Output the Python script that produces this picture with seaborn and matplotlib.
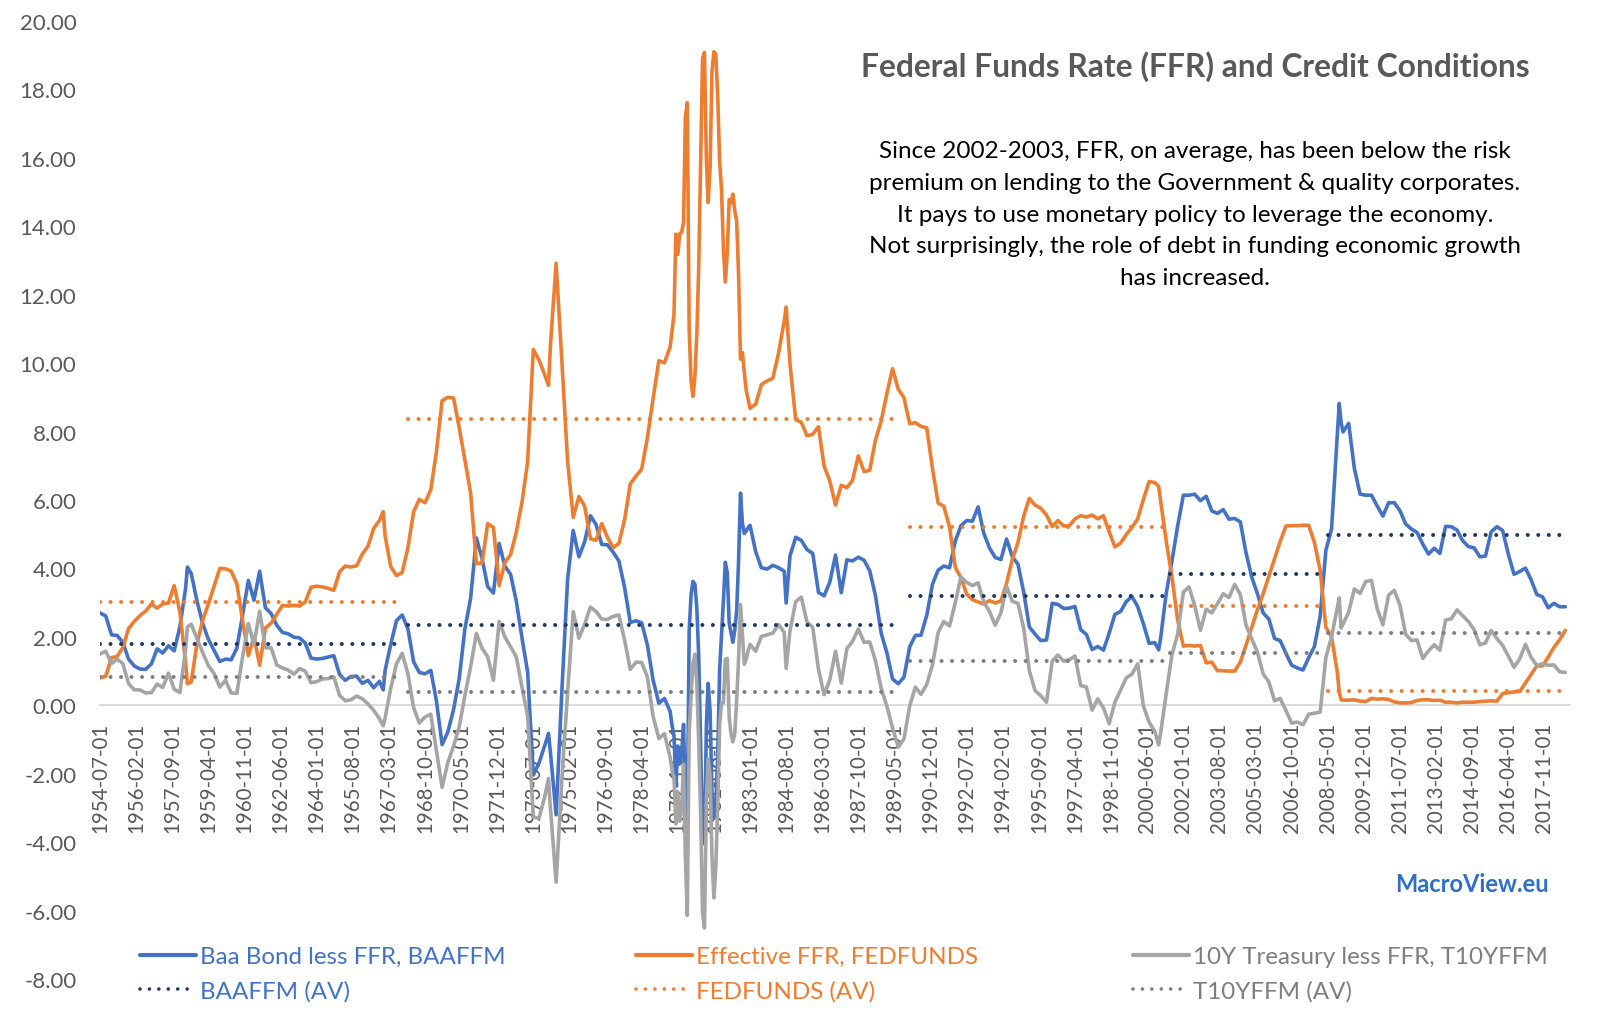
import matplotlib
matplotlib.use("Agg")
import matplotlib.pyplot as plt
import pandas as pd
import seaborn as sns
from matplotlib.lines import Line2D

# ---------------- data ----------------
dates = [
    "1954-07", "1954-10",
    "1955-01", "1955-04", "1955-07", "1955-10",
    "1956-01", "1956-04", "1956-07", "1956-10",
    "1957-01", "1957-04", "1957-07", "1957-10",
    "1958-01", "1958-04", "1958-05", "1958-07", "1958-10",
    "1959-01", "1959-04", "1959-07", "1959-10",
    "1960-01", "1960-04", "1960-07", "1960-10",
    "1961-01", "1961-04", "1961-07", "1961-10",
    "1962-01", "1962-04", "1962-07", "1962-10",
    "1963-01", "1963-04", "1963-07", "1963-10",
    "1964-01", "1964-04", "1964-07", "1964-10",
    "1965-01", "1965-04", "1965-07", "1965-10",
    "1966-01", "1966-04", "1966-07", "1966-10", "1966-12",
    "1967-01", "1967-04", "1967-07", "1967-10",
    "1968-01", "1968-04", "1968-07", "1968-10",
    "1969-01", "1969-04", "1969-07", "1969-10",
    "1970-01", "1970-04", "1970-07", "1970-10",
    "1971-01", "1971-04", "1971-07", "1971-10",
    "1972-01", "1972-04", "1972-07", "1972-10",
    "1973-01", "1973-04", "1973-07", "1973-10",
    "1974-01", "1974-03", "1974-04", "1974-07", "1974-10",
    "1975-01", "1975-04", "1975-07", "1975-10",
    "1976-01", "1976-04", "1976-07", "1976-10",
    "1977-01", "1977-04", "1977-07", "1977-10",
    "1978-01", "1978-04", "1978-07", "1978-10",
    "1979-01", "1979-04", "1979-07", "1979-08", "1979-09", "1979-10", "1979-11", "1979-12",
    "1980-01", "1980-02", "1980-03", "1980-04", "1980-05", "1980-06",
    "1980-07", "1980-08", "1980-09", "1980-10", "1980-11", "1980-12",
    "1981-01", "1981-02", "1981-03", "1981-04", "1981-05", "1981-06",
    "1981-07", "1981-08", "1981-09", "1981-10", "1981-11", "1981-12",
    "1982-01", "1982-02", "1982-03", "1982-04", "1982-05", "1982-06",
    "1982-07", "1982-08", "1982-09", "1982-10", "1982-11", "1982-12",
    "1983-01", "1983-04", "1983-07", "1983-10",
    "1984-01", "1984-04", "1984-07", "1984-08", "1984-10",
    "1985-01", "1985-04", "1985-07", "1985-10",
    "1986-01", "1986-04", "1986-07", "1986-10",
    "1987-01", "1987-04", "1987-07", "1987-10",
    "1988-01", "1988-04", "1988-07", "1988-10",
    "1989-01", "1989-04", "1989-07", "1989-10",
    "1990-01", "1990-04", "1990-07", "1990-10",
    "1991-01", "1991-04", "1991-07", "1991-10",
    "1992-01", "1992-04", "1992-07", "1992-10",
    "1993-01", "1993-04", "1993-07", "1993-10",
    "1994-01", "1994-04", "1994-07", "1994-10",
    "1995-01", "1995-04", "1995-07", "1995-10",
    "1996-01", "1996-04", "1996-07", "1996-10",
    "1997-01", "1997-04", "1997-07", "1997-10",
    "1998-01", "1998-04", "1998-07", "1998-10",
    "1999-01", "1999-04", "1999-07", "1999-10",
    "2000-01", "2000-04", "2000-07", "2000-10", "2000-12",
    "2001-01", "2001-04", "2001-07", "2001-10",
    "2002-01", "2002-04", "2002-07", "2002-10",
    "2003-01", "2003-04", "2003-07", "2003-10",
    "2004-01", "2004-04", "2004-07", "2004-10",
    "2005-01", "2005-04", "2005-07", "2005-10",
    "2006-01", "2006-04", "2006-07", "2006-10",
    "2007-01", "2007-04", "2007-07", "2007-10",
    "2008-01", "2008-04", "2008-07", "2008-10", "2008-11", "2008-12",
    "2009-01", "2009-04", "2009-07", "2009-10",
    "2010-01", "2010-04", "2010-07", "2010-10",
    "2011-01", "2011-04", "2011-07", "2011-10",
    "2012-01", "2012-04", "2012-07", "2012-10",
    "2013-01", "2013-04", "2013-07", "2013-10",
    "2014-01", "2014-04", "2014-07", "2014-10",
    "2015-01", "2015-04", "2015-07", "2015-10",
    "2016-01", "2016-04", "2016-07", "2016-10",
    "2017-01", "2017-04", "2017-07", "2017-10",
    "2018-01", "2018-04", "2018-07", "2018-10",
]

fedfunds = [
    0.80, 0.85,
    1.39, 1.43, 1.68, 2.24,
    2.45, 2.62, 2.75, 2.96,
    2.84, 2.96, 2.99, 3.50,
    2.72, 1.26, 0.63, 0.68, 1.80,
    2.48, 2.96, 3.47, 4.00,
    3.99, 3.92, 3.55, 2.47,
    1.45, 2.00, 1.17, 2.26,
    2.40, 2.66, 2.92, 2.90,
    2.92, 2.90, 3.02, 3.45,
    3.48, 3.46, 3.42, 3.36,
    3.90, 4.07, 4.04, 4.08,
    4.42, 4.65, 5.17, 5.40, 5.66,
    4.94, 4.05, 3.79, 3.88,
    4.61, 5.66, 6.02, 5.92,
    6.30, 7.41, 8.90, 9.00,
    8.98, 8.11, 7.17, 6.20,
    4.14, 4.16, 5.31, 5.20,
    3.50, 4.17, 4.40, 5.06,
    5.94, 7.12, 10.40, 10.09,
    9.65, 9.35, 10.51, 12.92, 10.06,
    7.13, 5.49, 6.10, 5.82,
    4.87, 4.82, 5.31, 4.90,
    4.61, 4.73, 5.42, 6.47,
    6.70, 6.90, 7.81, 8.96,
    10.07, 10.01, 10.47, 10.94, 11.43, 13.77, 13.18, 13.78,
    13.82, 14.13, 17.19, 17.61, 10.98, 9.47,
    9.03, 9.61, 10.87, 12.81, 15.85, 18.90,
    19.08, 15.93, 14.70, 15.72, 18.52, 19.10,
    19.04, 17.82, 15.87, 15.08, 13.31, 12.37,
    13.22, 14.78, 14.68, 14.94, 14.45, 14.15,
    12.59, 10.12, 10.31, 9.71, 9.20, 8.95,
    8.68, 8.80, 9.37, 9.48,
    9.56, 10.29, 11.23, 11.64, 9.99,
    8.35, 8.27, 7.88, 7.92,
    8.14, 6.99, 6.56, 5.85,
    6.43, 6.36, 6.58, 7.29,
    6.83, 6.87, 7.75, 8.30,
    9.12, 9.84, 9.24, 8.99,
    8.23, 8.26, 8.15, 8.11,
    6.91, 5.91, 5.82, 5.21,
    4.03, 3.73, 3.25, 3.09,
    3.02, 2.96, 3.06, 2.99,
    3.05, 3.56, 4.26, 4.76,
    5.53, 6.05, 5.85, 5.76,
    5.56, 5.22, 5.40, 5.24,
    5.25, 5.45, 5.54, 5.50,
    5.56, 5.45, 5.54, 5.07,
    4.63, 4.74, 4.99, 5.20,
    5.45, 6.02, 6.54, 6.51, 6.40,
    5.98, 4.80, 3.77, 2.49,
    1.73, 1.75, 1.73, 1.75,
    1.24, 1.26, 1.01, 1.01,
    1.00, 1.00, 1.26, 1.76,
    2.28, 2.79, 3.26, 3.78,
    4.29, 4.79, 5.24, 5.25,
    5.25, 5.26, 5.26, 4.76,
    3.94, 2.28, 2.01, 0.97, 0.39, 0.16,
    0.15, 0.15, 0.16, 0.12,
    0.11, 0.20, 0.18, 0.19,
    0.17, 0.10, 0.07, 0.07,
    0.08, 0.14, 0.16, 0.16,
    0.14, 0.15, 0.09, 0.09,
    0.07, 0.09, 0.09, 0.09,
    0.11, 0.12, 0.13, 0.12,
    0.34, 0.37, 0.39, 0.40,
    0.65, 0.90, 1.15, 1.15,
    1.41, 1.69, 1.91, 2.19,
]

baaffm = [
    2.70, 2.61,
    2.06, 2.04, 1.84, 1.35,
    1.15, 1.06, 1.05, 1.21,
    1.65, 1.53, 1.74, 1.59,
    2.30, 3.41, 4.04, 3.85, 3.05,
    2.39, 1.93, 1.61, 1.28,
    1.35, 1.33, 1.67, 2.64,
    3.65, 3.07, 3.92, 2.85,
    2.68, 2.34, 2.13, 2.09,
    1.99, 1.97, 1.82, 1.38,
    1.35, 1.37, 1.41, 1.45,
    0.90, 0.73, 0.84, 0.85,
    0.64, 0.73, 0.51, 0.70, 0.45,
    1.03, 1.78, 2.47, 2.64,
    2.23, 1.27, 0.96, 0.92,
    1.02, 0.13, -1.15, -0.78,
    -0.12, 0.78, 2.23, 3.13,
    4.89, 4.30, 3.47, 3.28,
    4.73, 4.07, 3.83, 3.05,
    1.96, 0.97, -2.04, -1.68,
    -1.17, -0.82, -1.38, -3.20, 0.42,
    3.68, 5.11, 4.34, 4.78,
    5.54, 5.28, 4.70, 4.69,
    4.47, 4.22, 3.45, 2.42,
    2.47, 2.41, 1.77, 0.74,
    0.06, 0.20, -0.18, -0.59, -0.89, -2.37, -1.19, -1.72,
    -1.40, -0.56, -2.74, -3.42, 2.19, 3.24,
    3.62, 3.54, 2.83, 1.42, -1.21, -3.76,
    -4.05, -0.56, 0.64, -0.16, -2.57, -3.30,
    -2.87, -1.48, 1.05, 2.03, 3.08, 4.18,
    3.88, 2.40, 2.14, 1.84, 2.19, 2.77,
    4.21, 6.20, 5.32, 5.02, 5.10, 5.19,
    5.26, 4.49, 4.02, 3.98,
    4.09, 4.02, 3.92, 2.99, 4.36,
    4.91, 4.82, 4.55, 4.44,
    3.30, 3.20, 3.60, 4.39,
    3.29, 4.25, 4.22, 4.33,
    4.24, 3.93, 3.21, 2.11,
    1.53, 0.77, 0.63, 0.82,
    1.71, 2.04, 2.05, 2.63,
    3.54, 3.95, 4.07, 4.02,
    4.80, 5.25, 5.40, 5.38,
    5.80, 5.03, 4.60, 4.32,
    4.26, 4.86, 4.35, 4.12,
    3.30, 2.29, 2.08, 1.89,
    1.91, 2.98, 2.95, 2.83,
    2.84, 2.89, 2.21, 2.07,
    1.63, 1.72, 1.61, 2.11,
    2.66, 2.74, 3.03, 3.18,
    2.88, 2.38, 1.81, 1.83, 1.62,
    1.95, 3.27, 4.20, 5.24,
    6.14, 6.14, 6.17, 5.98,
    6.11, 5.68, 5.61, 5.72,
    5.44, 5.46, 5.36, 4.45,
    3.74, 3.26, 2.70, 2.52,
    1.95, 1.89, 1.52, 1.17,
    1.09, 1.03, 1.39, 1.72,
    2.60, 4.53, 5.15, 7.91, 8.82, 8.27,
    7.99, 8.24, 6.93, 6.17,
    6.14, 6.14, 5.83, 5.53,
    5.92, 5.92, 5.69, 5.30,
    5.15, 5.05, 4.71, 4.42,
    4.59, 4.44, 5.23, 5.22,
    5.12, 4.81, 4.64, 4.60,
    4.34, 4.36, 5.07, 5.22,
    5.11, 4.42, 3.83, 3.91,
    4.01, 3.67, 3.24, 3.17,
    2.85, 2.98, 2.88, 2.88,
]

t10yffm = [
    1.50, 1.58,
    1.22, 1.35, 1.22, 0.64,
    0.45, 0.45, 0.36, 0.37,
    0.62, 0.52, 0.94, 0.47,
    0.37, 1.62, 2.29, 2.37, 1.95,
    1.54, 1.16, 0.93, 0.53,
    0.73, 0.36, 0.35, 1.42,
    2.39, 1.78, 2.75, 1.68,
    1.68, 1.18, 1.09, 1.03,
    0.91, 1.07, 1.00, 0.66,
    0.69, 0.77, 0.78, 0.83,
    0.29, 0.13, 0.16, 0.27,
    0.19, 0.04, -0.15, -0.39, -0.60,
    -0.36, 0.50, 1.21, 1.52,
    0.92, -0.07, -0.52, -0.34,
    -0.26, -1.33, -2.40, -1.67,
    -1.19, -0.63, 0.29, 1.13,
    2.10, 1.67, 1.42, 0.73,
    2.45, 2.00, 1.71, 1.42,
    0.52, -0.31, -3.27, -3.30,
    -2.66, -2.14, -3.00, -5.17, -2.16,
    0.37, 2.74, 1.96, 2.37,
    2.87, 2.74, 2.52, 2.51,
    2.60, 2.64, 1.91, 1.05,
    1.26, 1.25, 0.83, -0.32,
    -0.97, -0.83, -1.52, -1.91, -2.10, -3.47, -2.53, -3.39,
    -3.02, -1.72, -4.44, -6.14, -0.80, 0.31,
    1.22, 1.49, 0.64, -1.06, -3.17, -6.06,
    -6.51, -2.74, -1.58, -2.04, -4.42, -5.63,
    -4.76, -2.88, -0.55, 0.07, 0.08, 1.35,
    1.37, -0.35, -0.82, -1.07, -0.83, 0.15,
    1.36, 2.94, 2.03, 1.20, 1.35, 1.59,
    1.78, 1.58, 2.01, 2.06,
    2.11, 2.36, 2.13, 1.08, 2.17,
    3.03, 3.16, 2.43, 2.28,
    1.05, 0.31, 0.74, 1.58,
    0.65, 1.66, 1.87, 2.23,
    1.84, 1.85, 1.31, 0.50,
    -0.03, -0.66, -1.22, -0.98,
    -0.02, 0.53, 0.32, 0.61,
    1.18, 2.13, 2.45, 2.32,
    3.00, 3.75, 3.59, 3.50,
    3.58, 3.01, 2.75, 2.34,
    2.70, 3.48, 3.04, 2.98,
    2.25, 1.01, 0.43, 0.28,
    0.09, 1.29, 1.47, 1.29,
    1.33, 1.44, 0.58, 0.53,
    -0.14, 0.19, -0.08, -0.54,
    0.09, 0.44, 0.80, 0.91,
    1.21, -0.03, -0.49, -0.77, -1.16,
    -0.82, 0.34, 1.47, 2.08,
    3.31, 3.46, 2.92, 2.19,
    2.81, 2.70, 2.97, 3.26,
    3.15, 3.53, 3.24, 2.34,
    1.94, 1.55, 0.92, 0.68,
    0.13, 0.20, -0.15, -0.52,
    -0.49, -0.57, -0.26, -0.23,
    -0.20, 1.40, 2.00, 2.84, 3.14, 2.26,
    2.37, 2.72, 3.40, 3.27,
    3.62, 3.65, 2.83, 2.35,
    3.22, 3.36, 2.93, 2.08,
    1.89, 1.91, 1.37, 1.59,
    1.77, 1.61, 2.49, 2.53,
    2.79, 2.62, 2.45, 2.21,
    1.77, 1.82, 2.19, 1.95,
    1.75, 1.44, 1.11, 1.36,
    1.78, 1.40, 1.17, 1.21,
    1.17, 1.18, 0.98, 0.96,
]

# period averages (dotted lines)
avg_start = ["1954-07", "1968-01", "1990-01", "2001-06", "2008-05"]
avg_end = ["1967-09", "1989-09", "2001-02", "2008-01", "2018-08"]
baaffm_avg = [1.78, 2.34, 3.20, 3.83, 4.97]
fedfunds_avg = [3.02, 8.37, 5.20, 2.89, 0.42]
t10yffm_avg = [0.84, 0.38, 1.29, 1.52, 2.10]

xtick_labels = [
    "1954-07-01", "1956-02-01", "1957-09-01", "1959-04-01", "1960-11-01",
    "1962-06-01", "1964-01-01", "1965-08-01", "1967-03-01", "1968-10-01",
    "1970-05-01", "1971-12-01", "1973-07-01", "1975-02-01", "1976-09-01",
    "1978-04-01", "1979-11-01", "1981-06-01", "1983-01-01", "1984-08-01",
    "1986-03-01", "1987-10-01", "1989-05-01", "1990-12-01", "1992-07-01",
    "1994-02-01", "1995-09-01", "1997-04-01", "1998-11-01", "2000-06-01",
    "2002-01-01", "2003-08-01", "2005-03-01", "2006-10-01", "2008-05-01",
    "2009-12-01", "2011-07-01", "2013-02-01", "2014-09-01", "2016-04-01",
    "2017-11-01",
]
ytick_values = [-8, -6, -4, -2, 0, 2, 4, 6, 8, 10, 12, 14, 16, 18, 20]

series_labels = ["Baa Bond less FFR, BAAFFM", "Effective FFR, FEDFUNDS",
                 "10Y Treasury less FFR, T10YFFM"]
avg_labels = ["BAAFFM (AV)", "FEDFUNDS (AV)", "T10YFFM (AV)"]

title = "Federal Funds Rate (FFR) and Credit Conditions"
note = ("Since 2002-2003, FFR, on average, has been below the risk\n"
        "premium on lending to the Government & quality corporates.\n"
        "It pays to use monetary policy to leverage the economy.\n"
        "Not surprisingly, the role of debt in funding economic growth\n"
        "has increased.")
brand = "MacroView.eu"

# ---------------- style ----------------
BLUE = "#4472C4"
ORANGE = "#ED7D31"
GRAY = "#A5A5A5"
NAVY = "#203864"
DGRAY = "#7F7F7F"
TXT = "#595959"

sns.set_style("white")
plt.rcParams["font.family"] = ["Lato", "DejaVu Sans"]

W, H = 1600, 1020
fig = plt.figure(figsize=(16, 10.2), dpi=100)
ax = fig.add_axes([100 / W, 1 - 980 / H, (1570 - 100) / W, (980 - 22) / H])

df = pd.DataFrame({
    "date": pd.to_datetime(dates),
    "baaffm": baaffm,
    "fedfunds": fedfunds,
    "t10yffm": t10yffm,
})

line_w = 2.6
sns.lineplot(data=df, x="date", y="baaffm", ax=ax, color=BLUE, lw=line_w, zorder=3)
sns.lineplot(data=df, x="date", y="fedfunds", ax=ax, color=ORANGE, lw=line_w, zorder=3)
sns.lineplot(data=df, x="date", y="t10yffm", ax=ax, color=GRAY, lw=line_w, zorder=3)

dot_style = (0, (0.01, 2.6))
dot_w = 2.9
for vals, col in ((baaffm_avg, NAVY), (fedfunds_avg, ORANGE), (t10yffm_avg, DGRAY)):
    for s, e, v in zip(avg_start, avg_end, vals):
        seg = pd.DataFrame({"date": pd.to_datetime([s, e]), "v": [v, v]})
        sns.lineplot(data=seg, x="date", y="v", ax=ax, color=col, lw=dot_w,
                     linestyle=dot_style, dash_capstyle="round", zorder=4)

ax.set_xlim(pd.Timestamp("1954-07-01"), pd.Timestamp("2018-12-15"))
ax.set_ylim(-8, 20)
ax.set_yticks(ytick_values)
ax.set_yticklabels([f"{v:.2f}" for v in ytick_values])
ax.set_xticks(pd.to_datetime(xtick_labels))
ax.set_xticklabels(xtick_labels)
ax.set_xlabel("")
ax.set_ylabel("")
for sp in ("top", "right", "left"):
    ax.spines[sp].set_visible(False)
ax.spines["bottom"].set_position(("data", 0))
ax.spines["bottom"].set_color("#D9D9D9")
ax.spines["bottom"].set_linewidth(1.3)
ax.spines["bottom"].set_zorder(1)
ax.set_axisbelow(True)
ax.tick_params(axis="x", direction="out", length=5, width=1.2, color="#D9D9D9",
               pad=7, labelsize=14.8, labelcolor=TXT, labelrotation=90)
ax.tick_params(axis="y", length=0, pad=17, labelsize=16, labelcolor=TXT)
for lbl in ax.get_xticklabels():
    lbl.set_rotation(90)
    lbl.set_horizontalalignment("center")
    lbl.set_verticalalignment("top")
ax.grid(False)
ax.patch.set_alpha(0)

# legends: one per series column
leg_x = [140, 636, 1133]
line_cols = [BLUE, ORANGE, GRAY]
dot_cols = [NAVY, ORANGE, DGRAY]
text_cols = [BLUE, ORANGE, DGRAY]
for i in range(3):
    hs = [Line2D([0], [0], color=line_cols[i], lw=3.0),
          Line2D([0], [0], color=dot_cols[i], lw=2.6, linestyle=(0, (0.01, 2.6)),
                 dash_capstyle="round")]
    leg = fig.legend(hs, [series_labels[i], avg_labels[i]], loc="upper left",
                     bbox_to_anchor=(leg_x[i] / W, 1 - 947 / H), frameon=False,
                     fontsize=17.4, handlelength=2.3, handletextpad=0.2,
                     labelspacing=0.55, borderpad=0, borderaxespad=0)
    for t in leg.get_texts():
        t.set_color(text_cols[i])

fig.text(1195 / W, 1 - 67 / H, title, ha="center", va="center", fontsize=22.9,
         fontweight="bold", color=TXT)
fig.text(1195 / W, 1 - 215 / H, note, ha="center", va="center", fontsize=17.5,
         color="black", linespacing=1.62, multialignment="center")
fig.text(1472 / W, 1 - 884 / H, brand, ha="center", va="center", fontsize=17,
         fontweight="bold", color="#2F6FC8")

fig.savefig("out.png", dpi=100)
